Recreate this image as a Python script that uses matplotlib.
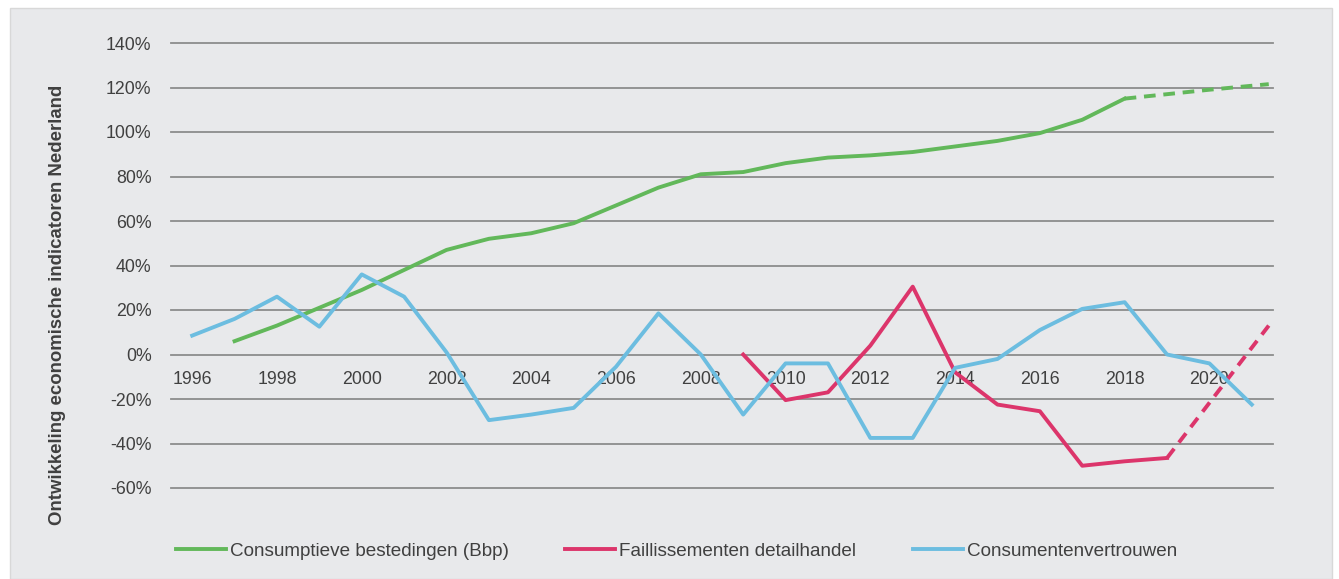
import matplotlib.pyplot as plt
from matplotlib.patches import Rectangle
from matplotlib.ticker import FuncFormatter

plt.rcParams['font.family'] = ['Liberation Sans', 'DejaVu Sans']

years = list(range(1996, 2022))

# Consumptieve bestedingen (Bbp), 1997-2018 measured, then forecast
cons_years = list(range(1997, 2019))
cons = [6, 13, 21, 29, 38, 47, 52, 54.5, 59, 67, 75, 81, 82, 86, 88.5,
        89.5, 91, 93.5, 96, 99.5, 105.5, 115]
cons_fc_years = [2018, 2019, 2020, 2021.4]
cons_fc = [115, 117, 119, 121.5]

# Faillissementen detailhandel
fail_years = list(range(2009, 2020))
fail = [0, -20.5, -17, 4, 30.5, -8, -22.5, -25.5, -50, -48, -46.5]
fail_fc_years = [2019, 2021.4]
fail_fc = [-46.5, 13]

# Consumentenvertrouwen
vert = [8.5, 16, 26, 12.5, 36, 26, 1, -29.5, -27, -24, -5.5, 18.5, 0, -27,
        -4, -4, -37.5, -37.5, -6, -2, 11, 20.5, 23.5, 0, -4, -22.5]

green = '#62b85a'
red = '#dc356b'
blue = '#6cbde0'
text_col = '#404040'

fig = plt.figure(figsize=(13.39, 5.79), dpi=100)
fig.patches.append(Rectangle((10 / 1339, 0), 1322 / 1339, 1 - 8 / 579,
                             transform=fig.transFigure, facecolor='#e8e9eb',
                             edgecolor='#d8d8d8', lw=1, zorder=-1))

ax = fig.add_axes([171 / 1339, 1 - 488 / 579, 1102 / 1339, 445 / 579])
ax.set_facecolor('none')

lw = 2.8
ax.plot(cons_years, cons, color=green, lw=lw, label='Consumptieve bestedingen (Bbp)')
ax.plot(cons_fc_years, cons_fc, color=green, lw=lw, ls=(0, (3, 2)))
ax.plot(fail_years, fail, color=red, lw=lw, label='Faillissementen detailhandel')
ax.plot(fail_fc_years, fail_fc, color=red, lw=lw, ls=(0, (3, 2)))
ax.plot(years, vert, color=blue, lw=lw, label='Consumentenvertrouwen')

ax.set_xlim(1995.5, 2021.5)
ax.set_ylim(-60, 140)
ax.set_yticks(range(-60, 141, 20))
ax.yaxis.set_major_formatter(FuncFormatter(lambda v, p: f'{v:.0f}%'))
ax.set_xticks(range(1996, 2022, 2))

ax.yaxis.grid(True, color='#8c8c8c', lw=1.3)
for gl in ax.get_ygridlines():
    gl.set_clip_on(False)
ax.set_axisbelow(True)

for s in ['top', 'right', 'left']:
    ax.spines[s].set_visible(False)
ax.spines['bottom'].set_position(('data', 0))
ax.spines['bottom'].set_visible(False)

ax.tick_params(axis='both', length=0, labelsize=12.8, labelcolor=text_col)
ax.tick_params(axis='y', pad=14)
ax.tick_params(axis='x', pad=12)

fig.text(58 / 1339, 1 - 305 / 579, 'Ontwikkeling economische indicatoren Nederland',
         rotation=90, ha='center', va='center', fontsize=13.4,
         fontweight='bold', color=text_col)

fig.legend(loc='center left', bbox_to_anchor=(176 / 1339, 1 - 551 / 579),
           ncol=3, frameon=False, fontsize=13.6, handlelength=2.65,
           handletextpad=0.2, columnspacing=3.0, borderpad=0,
           borderaxespad=0, labelcolor=text_col)

fig.savefig('out.png', dpi=100)
